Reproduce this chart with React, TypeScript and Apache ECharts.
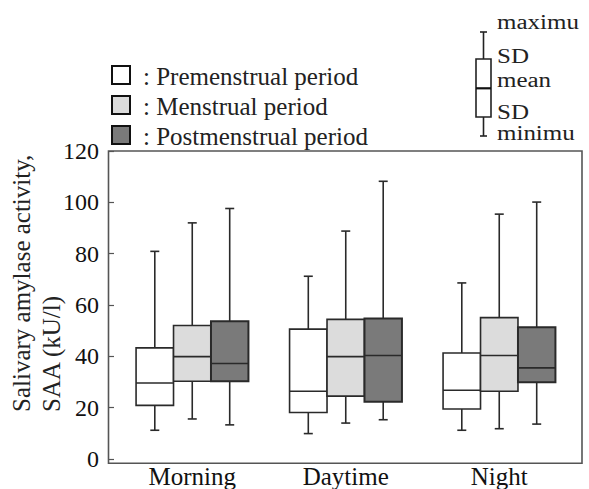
import React, { useEffect, useRef } from "react";
import * as echarts from "echarts";

// ---- data (kU/l): [min, SD-low, mean, SD-high, max] ----
const categories = ["Morning", "Daytime", "Night"];
const premenstrual = [
  [11.2, 20.9, 29.6, 43.3, 80.9],
  [9.9, 18.1, 26.4, 50.6, 71.2],
  [11.2, 19.5, 26.8, 41.3, 68.6],
];
const menstrual = [
  [15.6, 30.3, 39.9, 52.0, 92.0],
  [14.0, 24.5, 39.9, 54.4, 88.8],
  [11.8, 26.4, 40.3, 55.1, 95.4],
];
const postmenstrual = [
  [13.3, 30.3, 37.2, 53.7, 97.6],
  [15.3, 22.3, 40.3, 54.7, 108.2],
  [13.6, 29.9, 35.5, 51.3, 100.1],
];
const yTicks = { min: 0, max: 120, interval: 20 };
const legendLabels = [": Premenstrual period", ": Menstrual period", ": Postmenstrual period"];
const keyLabels = ["maximu", "SD", "mean", "SD", "minimu"];

const FONT = "'Liberation Serif', 'Times New Roman', serif";
const fills = ["#ffffff", "#dcdcdc", "#7a7a7a"];
const STROKE = "#2a2a2a";

export default function App() {
  const ref = useRef<HTMLDivElement>(null);

  useEffect(() => {
    if (!ref.current) return;
    const chart = echarts.init(ref.current, null, { renderer: "svg" });

    const groups = [premenstrual, menstrual, postmenstrual];
    const offsets = [-0.244, 0, 0.244];
    const boxFrac = 0.244;

    const makeRender = (gi: number) => (params: any, api: any) => {
      const cat = api.value(0);
      const vMin = api.value(1);
      const vQ1 = api.value(2);
      const vMed = api.value(3);
      const vQ3 = api.value(4);
      const vMax = api.value(5);
      const band = api.size([1, 0])[0];
      const cx = api.coord([cat, 0])[0] + offsets[gi] * band;
      const half = (boxFrac * band) / 2;
      const yMin = api.coord([cat, vMin])[1];
      const yQ1 = api.coord([cat, vQ1])[1];
      const yMed = api.coord([cat, vMed])[1];
      const yQ3 = api.coord([cat, vQ3])[1];
      const yMax = api.coord([cat, vMax])[1];
      const ls = { stroke: STROKE, lineWidth: 1.6 };
      const cap = 4.5;
      return {
        type: "group",
        children: [
          { type: "line", shape: { x1: cx, y1: yMax, x2: cx, y2: yQ3 }, style: ls },
          { type: "line", shape: { x1: cx, y1: yQ1, x2: cx, y2: yMin }, style: ls },
          { type: "line", shape: { x1: cx - cap, y1: yMax, x2: cx + cap, y2: yMax }, style: ls },
          { type: "line", shape: { x1: cx - cap, y1: yMin, x2: cx + cap, y2: yMin }, style: ls },
          {
            type: "rect",
            shape: { x: cx - half, y: yQ3, width: half * 2, height: yQ1 - yQ3 },
            style: { fill: fills[gi], stroke: STROKE, lineWidth: gi === 2 ? 2 : 1.6 },
          },
          { type: "line", shape: { x1: cx - half, y1: yMed, x2: cx + half, y2: yMed }, style: ls },
        ],
      };
    };

    const series = groups.map((g, gi) => ({
      type: "custom",
      name: legendLabels[gi],
      renderItem: makeRender(gi),
      encode: { x: 0, y: [1, 2, 3, 4, 5] },
      data: g.map((row, ci) => [ci, ...row]),
      z: 2,
    }));

    const graphic: any[] = [];
    // plot frame
    graphic.push({
      type: "rect",
      shape: { x: 108.5, y: 151, width: 473.5, height: 312.3 },
      style: { fill: "none", stroke: "#555", lineWidth: 1.6 },
      z: 10,
    });
    // y axis title
    graphic.push({
      type: "text",
      x: 6,
      y: 412,
      rotation: Math.PI / 2,
      style: {
        text: "Salivary amylase activity,\nSAA (kU/l)",
        font: `25px ${FONT}`,
        fill: "#222",
        textAlign: "left",
        textVerticalAlign: "top",
        lineHeight: 30,
      },
    });
    // legend
    const legTop = [66, 96, 126];
    legendLabels.forEach((lab, i) => {
      graphic.push({
        type: "rect",
        shape: { x: 112, y: legTop[i], width: 18, height: 18 },
        style: { fill: fills[i], stroke: "#111", lineWidth: 2 },
      });
      graphic.push({
        type: "text",
        x: 143,
        y: legTop[i] + 10,
        style: {
          text: lab,
          font: `25px ${FONT}`,
          fill: "#222",
          textAlign: "left",
          textVerticalAlign: "middle",
        },
      });
    });
    // key (top right)
    const kx = 483.5;
    graphic.push({ type: "line", shape: { x1: kx, y1: 32, x2: kx, y2: 136 }, style: { stroke: "#222", lineWidth: 1.6 } });
    graphic.push({ type: "line", shape: { x1: kx - 3.5, y1: 32, x2: kx + 3.5, y2: 32 }, style: { stroke: "#222", lineWidth: 1.6 } });
    graphic.push({ type: "line", shape: { x1: kx - 3.5, y1: 136, x2: kx + 3.5, y2: 136 }, style: { stroke: "#222", lineWidth: 1.6 } });
    graphic.push({
      type: "rect",
      shape: { x: 476, y: 59, width: 15, height: 58 },
      style: { fill: "#fff", stroke: "#222", lineWidth: 1.6 },
    });
    graphic.push({ type: "line", shape: { x1: 476, y1: 88.3, x2: 491, y2: 88.3 }, style: { stroke: "#111", lineWidth: 2.2 } });
    const keyY = [22, 56.5, 80.5, 112, 133.5];
    keyLabels.forEach((lab, i) => {
      graphic.push({
        type: "text",
        x: 497,
        y: keyY[i],
        scaleY: 0.8,
        style: {
          text: lab,
          font: `25px ${FONT}`,
          fill: "#222",
          textAlign: "left",
          textVerticalAlign: "middle",
        },
      });
    });

    chart.setOption({
      animation: false,
      backgroundColor: "#fff",
      grid: { left: 115.5, right: 13, top: 151, bottom: 25.7, containLabel: false },
      xAxis: {
        type: "category",
        data: categories,
        boundaryGap: true,
        axisLine: { show: false },
        axisTick: { show: false },
        axisLabel: { fontFamily: FONT, fontSize: 25, color: "#111", margin: 5 },
      },
      yAxis: {
        type: "value",
        min: yTicks.min,
        max: yTicks.max,
        interval: yTicks.interval,
        offset: 6.5,
        axisLine: { show: false },
        axisTick: { show: true, inside: true, length: 5, lineStyle: { color: "#555", width: 1.2 } },
        splitLine: { show: false },
        axisLabel: { fontFamily: FONT, fontSize: 24, color: "#111", margin: 10 },
      },
      series,
      graphic,
    });

    return () => chart.dispose();
  }, []);

  return <div ref={ref} style={{ width: 589, height: 489, position: "absolute", left: 0, top: 0 }} />;
}
